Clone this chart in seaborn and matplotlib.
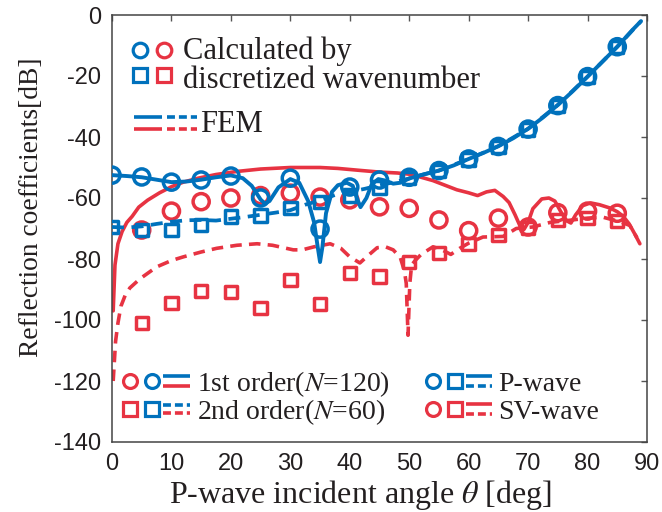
import numpy as np
import pandas as pd
import matplotlib
matplotlib.use("Agg")
import matplotlib.pyplot as plt
import seaborn as sns
from matplotlib.legend import Legend
from matplotlib.legend_handler import HandlerBase
from matplotlib.lines import Line2D

# ---------------- data ----------------
angles_p = [0, 5, 10, 15, 20, 25, 30, 35, 40, 45, 50, 55, 60, 65, 70, 75, 80, 85]
p_1st = [-52.5, -53.1, -54.8, -54.1, -52.8, -60.0, -53.5, -70.2, -56.4, -54.1, -53.2,
         -51.0, -47.2, -43.1, -37.4, -29.7, -20.2, -10.4]
p_2nd = [-69.5, -70.4, -70.5, -68.9, -66.0, -65.8, -63.3, -61.3, -59.2, -56.6, -53.5,
         -51.2, -47.4, -43.2, -37.5, -29.8, -20.3, -10.5]

angles_sv = [5, 10, 15, 20, 25, 30, 35, 40, 45, 50, 55, 60, 65, 70, 75, 80, 85]
sv_1st = [-70.5, -64.3, -61.2, -60.0, -59.2, -58.4, -59.7, -60.6, -62.9, -63.4, -67.2,
          -70.7, -66.6, -69.5, -64.8, -64.3, -65.0]
sv_2nd = [-101.0, -94.4, -90.5, -90.9, -96.0, -86.9, -94.8, -84.6, -85.8, -81.0, -78.0,
          -75.0, -72.1, -69.8, -67.2, -66.6, -67.5]

fem_p1_x = [0, 2.5, 5, 7.5, 10, 12.5, 15, 17.5, 20, 22, 23.5, 25, 25.7, 26.5, 28, 30, 31.5,
            33, 34, 34.6, 35, 35.4, 36, 37, 38, 39.5, 40.5, 41, 41.8, 42.8, 43.7, 44.8, 46,
            47.3, 48.5, 50, 52, 55, 57.5, 60, 62.5, 65, 67.5, 70, 72.5, 75, 77.5, 80, 82.5,
            85, 87.5, 89]
fem_p1_y = [-52.5, -52.8, -53.2, -54, -54.8, -54.6, -54, -53.2, -52.6, -53.5, -56, -60.5,
            -61.8, -61, -56.5, -53.8, -55, -61, -68, -76, -81, -76, -65, -58, -55.8, -55,
            -56, -59, -63, -60, -55.5, -53.8, -54.3, -55.3, -55, -53.6, -52.5, -51, -49.3,
            -47.2, -45.2, -43, -40.4, -37.3, -33.6, -29.5, -25, -20.2, -15.3, -10.4, -5, -2]

fem_p2_x = [0, 2.5, 5, 7.5, 10, 12.5, 15, 17.5, 20, 22.5, 25, 27.5, 30, 32.5, 35, 37.5, 40,
            42.5, 45, 47.5, 50, 52.5, 55, 60, 65, 70, 75, 80, 85, 89]
fem_p2_y = [-69.5, -69.7, -69.3, -68.5, -67.8, -67.3, -67.2, -67.4, -66.8, -66.2, -65.5,
            -64.8, -64, -62.2, -60.8, -59, -58, -57, -55.8, -54.8, -53.6, -52.2, -51,
            -47.2, -43, -37.3, -29.5, -20.2, -10.4, -2]

fem_sv1_x = [0.2, 0.5, 1.0, 1.7, 2.5, 3.4, 4.5, 6, 8, 10, 12, 14.5, 17.5, 21, 25, 30, 35, 38,
             42, 45, 48, 50, 52, 54, 56, 58, 60, 61.5, 63, 64.4, 65.8, 66.8, 67.8, 68.6,
             69.3, 70, 70.8, 72.3, 73.5, 74.5, 75.5, 76.5, 77.2, 78, 79.2, 80.5, 82, 83.8,
             85, 86, 87, 88, 88.8]
fem_sv1_y = [-97, -82, -75, -71, -68, -66, -63, -60.7, -58.3, -56.3, -54.8, -53.5, -52.3,
             -51.3, -50.5, -50, -50, -50.3, -51, -51.5, -51.8, -52.2, -53.2, -54.3, -55.8,
             -57.3, -58.3, -59.2, -58, -57.5, -59.5, -61.5, -65.5, -69, -70.3, -68, -63.5,
             -60.3, -60, -61, -64.5, -67.5, -68.2, -65.5, -62.5, -61.6, -62.2, -63.3, -64.5,
             -66, -68.5, -72, -75]

fem_sv2_x = [0.2, 0.6, 1.0, 1.5, 2.2, 3, 4.7, 7.5, 10, 12, 15, 17.6, 21, 24.4, 27, 30.5, 32,
             34, 36.7, 38.5, 40, 41.7, 43, 44.6, 46, 47.3, 48.5, 49.2, 49.5, 49.8, 50.1,
             50.4, 51, 52, 54, 55.5, 57, 58.5, 60, 62.4, 65.8, 68, 70.8, 73.7, 77, 80, 82.6,
             85.5, 87.1, 88.3]
fem_sv2_y = [-120, -107, -101, -95.5, -92, -89.5, -86.5, -82.6, -80.5, -79.3, -77.7, -76.5,
             -75.5, -75, -75.5, -77, -77, -76, -75, -76.5, -79.3, -81.3, -79, -76.3, -76,
             -77, -79.5, -84, -88, -105, -88, -82, -80.5, -78.5, -76, -77, -78.5, -76.5,
             -74.8, -72.8, -72.6, -70, -69.5, -68, -67.3, -66.6, -66.3, -67.8, -69, -73]

x_ticks = [0, 10, 20, 30, 40, 50, 60, 70, 80, 90]
y_ticks = [-140, -120, -100, -80, -60, -40, -20, 0]

# ---------------- style ----------------
BLUE = "#0071BC"
RED = "#E73342"
TXT = "#231F20"
SERIF = ["Liberation Serif", "DejaVu Serif"]
SANS = ["Liberation Sans", "DejaVu Sans"]

sns.set_style("white")
plt.rcParams["font.family"] = SANS
plt.rcParams["mathtext.fontset"] = "stix"

W, H = 662, 512
fig = plt.figure(figsize=(W / 100, H / 100), dpi=100)
ax = fig.add_axes([112 / W, 1 - 442 / H, (647 - 112) / W, (442 - 15) / H])

# FEM lines
DASH = (0, (3.2, 2.0))
sns.lineplot(x=fem_sv2_x, y=fem_sv2_y, ax=ax, color=RED, lw=2.6, linestyle=DASH,
             sort=False, estimator=None, zorder=2)
sns.lineplot(x=fem_sv1_x, y=fem_sv1_y, ax=ax, color=RED, lw=2.6, sort=False,
             estimator=None, zorder=2)
sns.scatterplot(x=angles_sv, y=sv_2nd, ax=ax, marker="s", s=80, color=RED,
                facecolor="none", edgecolor=RED, linewidth=2.5, zorder=3)
sns.scatterplot(x=angles_sv, y=sv_1st, ax=ax, marker="o", s=135, color=RED,
                facecolor="none", edgecolor=RED, linewidth=2.5, zorder=3)
sns.lineplot(x=fem_p2_x, y=fem_p2_y, ax=ax, color=BLUE, lw=2.7, linestyle=DASH,
             sort=False, estimator=None, zorder=4)
sns.lineplot(x=fem_p1_x, y=fem_p1_y, ax=ax, color=BLUE, lw=2.8, sort=False,
             estimator=None, zorder=4)
sns.scatterplot(x=angles_p, y=p_2nd, ax=ax, marker="s", s=80, color=BLUE,
                facecolor="none", edgecolor=BLUE, linewidth=2.5, zorder=5)
sns.scatterplot(x=angles_p, y=p_1st, ax=ax, marker="o", s=135, color=BLUE,
                facecolor="none", edgecolor=BLUE, linewidth=2.5, zorder=5)

ax.set_xlim(0, 90)
ax.set_ylim(-140, 0)
ax.set_xticks(x_ticks)
ax.set_yticks(y_ticks)
ax.set_xticklabels([str(t) for t in x_ticks])
ax.set_yticklabels([str(t) for t in y_ticks])
ax.tick_params(direction="in", length=4, width=1, colors="#555555", labelcolor=TXT,
               top=True, right=True, labelsize=17, pad=8)
for lab in ax.get_xticklabels() + ax.get_yticklabels():
    lab.set_fontfamily(SANS)
for sp in ax.spines.values():
    sp.set_color("#444444")
    sp.set_linewidth(1.1)

ax.set_xlabel("P-wave incident angle $\\theta$ [deg]", fontfamily=SERIF, fontsize=23,
              color=TXT, labelpad=2)
ax.xaxis.label.set_x((360 - 112) / (647 - 112))
ax.set_ylabel("Reflection coefficients[dB]", fontfamily=SERIF, fontsize=19.8,
              color=TXT, labelpad=7)
ax.yaxis.label.set_y((442 - 207) / (442 - 15))

# ---------------- custom legend keys ----------------
PX = 0.72  # points per pixel at dpi 100


class Key:
    def __init__(self, items):
        self.items = items


class KeyHandler(HandlerBase):
    def create_artists(self, legend, orig_handle, xdescent, ydescent, width, height,
                       fontsize, trans):
        arts = []
        xstart = -xdescent
        x0 = xstart
        yc = -ydescent + height / 2
        for it in orig_handle.items:
            if it[0] == "m":
                marker, color, slot, ms = it[1], it[2], it[3], it[4]
                dy = it[5] if len(it) > 5 else 0
                ln = Line2D([x0 + slot * PX / 2], [yc + dy * PX], marker=marker,
                            markersize=ms, markerfacecolor="none", markeredgecolor=color,
                            markeredgewidth=2.3, linestyle="none")
                ln.set_transform(trans)
                arts.append(ln)
                x0 += slot * PX
            elif it[0] == "g":
                x0 += it[1] * PX
            elif it[0] == "r":
                x0 = xstart
            else:
                length, dy, color, ls = it[1], it[2], it[3], it[4]
                ln = Line2D([x0, x0 + length * PX], [yc + dy * PX] * 2, color=color,
                            lw=2.6, linestyle=ls, solid_capstyle="butt",
                            dash_capstyle="butt")
                ln.set_transform(trans)
                arts.append(ln)
                if len(it) > 5 and it[5]:
                    x0 += length * PX
        return arts


def add_key(items, label, xpx, ypx, size, keyw_px, pad_px, spacing=1.2):
    leg = Legend(ax, [Key(items)], [label], handler_map={Key: KeyHandler()},
                 loc="center left", bbox_to_anchor=(xpx / W, 1 - ypx / H),
                 bbox_transform=fig.transFigure, frameon=False, borderpad=0,
                 borderaxespad=0, handlelength=keyw_px * PX / size,
                 handletextpad=pad_px * PX / size,
                 prop={"family": SERIF, "size": size})
    for t in leg.get_texts():
        t.set_color(TXT)
        t.set_linespacing(spacing)
    ax.add_artist(leg)


LDASH = (0, (2.2, 1.1))
TOP = 22
add_key([("m", "o", BLUE, 24, 10.5, 16), ("m", "o", RED, 24, 10.5, 16), ("r",),
         ("m", "s", BLUE, 24, 10.5, -9), ("m", "s", RED, 24, 10.5, -9)],
        "Calculated by\ndiscretized wavenumber", 128, 66, TOP, 48, 7, 0.98)
add_key([("l", 28, 5, BLUE, "-"), ("l", 28, -7, RED, "-", True), ("g", 5),
         ("l", 30, 5, BLUE, LDASH), ("l", 30, -7, RED, LDASH, True)],
        "FEM", 134, 125, TOP, 63, 3)

BOT = 20
add_key([("m", "o", RED, 22, 10), ("m", "o", BLUE, 22, 10),
         ("l", 27, 5, BLUE, "-"), ("l", 27, -5, RED, "-", True)],
        "1st order($N$=120)", 119, 384, BOT, 71, 7)
add_key([("m", "s", RED, 22, 10), ("m", "s", BLUE, 22, 10),
         ("l", 27, 4, BLUE, LDASH), ("l", 27, -4, RED, LDASH, True)],
        "2nd order($N$=60)", 119, 412, BOT, 71, 7)
add_key([("m", "o", BLUE, 22, 10), ("m", "s", BLUE, 22, 10),
         ("l", 26, 5, BLUE, "-"), ("l", 26, -5, BLUE, LDASH, True)],
        "P-wave", 422, 384, BOT, 70, 6)
add_key([("m", "o", RED, 22, 10), ("m", "s", RED, 22, 10),
         ("l", 26, 5, RED, "-"), ("l", 26, -5, RED, LDASH, True)],
        "SV-wave", 422, 412, BOT, 70, 6)

fig.savefig("out.png", dpi=100)
